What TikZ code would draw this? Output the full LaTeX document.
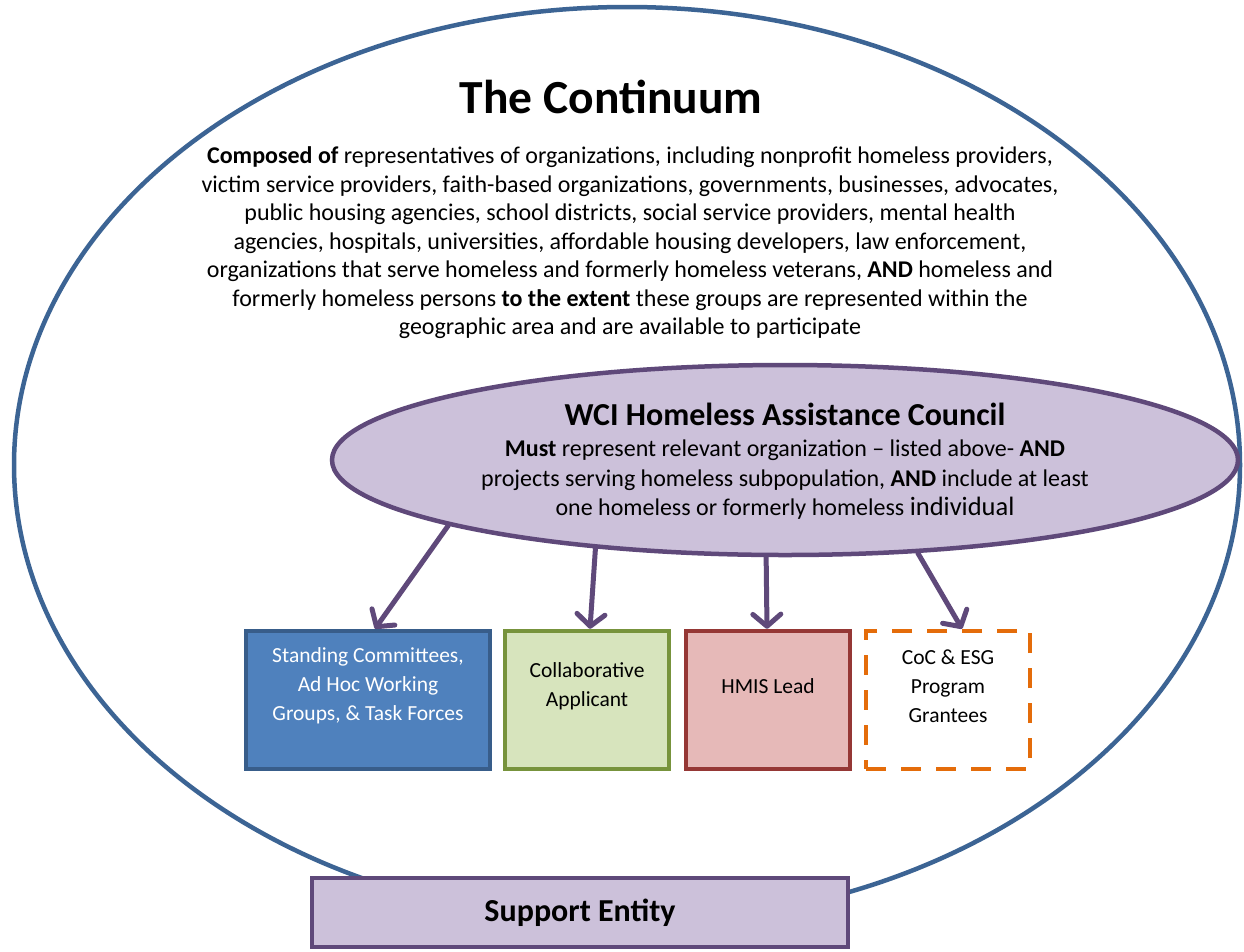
\documentclass[tikz,border=0pt]{standalone}
\usepackage{fontspec}
\setmainfont{Carlito}
\usetikzlibrary{shapes.geometric,arrows.meta,calc}
\definecolor{ringblue}{HTML}{3C6494}
\definecolor{councilline}{HTML}{5F497A}
\definecolor{councilfill}{HTML}{CCC1DA}
\definecolor{boxblue}{HTML}{4F81BD}
\definecolor{boxblueline}{HTML}{385D8A}
\definecolor{boxgreen}{HTML}{D7E4BD}
\definecolor{boxgreenline}{HTML}{77933C}
\definecolor{boxred}{HTML}{E6B9B8}
\definecolor{boxredline}{HTML}{953735}
\definecolor{boxorange}{HTML}{E46C0A}
\tikzset{
  ring/.style={draw=ringblue, line width=4.5pt, ellipse, inner sep=0pt},
  councilshape/.style={draw=councilline, fill=councilfill, line width=4.5pt, ellipse, inner sep=0pt},
  unitbox/.style={rectangle, line width=4.5pt, inner sep=0pt, minimum height=138pt},
  boxlabel/.style={align=center, font=\fontsize{21.5}{29}\selectfont},
  bodytext/.style={align=center, font=\fontsize{24}{28.5}\selectfont},
  flow/.style={draw=councilline, line width=5pt, line cap=round, line join=round,
    -{Straight Barb[length=12pt, width=28pt, line cap=round, line join=round]}},
}
\begin{document}
\begin{tikzpicture}[x=1pt,y=-1pt]
\useasboundingbox[fill=white] (0,0) rectangle (1244,951);
\node[ring, minimum width=1226pt, minimum height=916pt] (continuum) at (627,465) {};
\node[font=\fontsize{47.5}{52}\selectfont\bfseries] (title) at (611,97) {The Continuum};
\node[bodytext] (composed) at (630,243) {\textbf{Composed of} representatives of organizations, including nonprofit homeless providers,\\
victim service providers, faith-based organizations, governments, businesses, advocates,\\
public housing agencies, school districts, social service providers, mental health\\
agencies, hospitals, universities, affordable housing developers, law enforcement,\\
organizations that serve homeless and formerly homeless veterans, \textbf{AND} homeless and\\
formerly homeless persons \textbf{to the extent} these groups are represented within the\\
geographic area and are available to participate};
\node[councilshape, minimum width=906pt, minimum height=190pt] (council) at (785,460) {};
\node[font=\fontsize{32}{36}\selectfont\bfseries] (counciltitle) at (785,414) {WCI Homeless Assistance Council};
\node[bodytext, font=\fontsize{24}{29.5}\selectfont] (councilbody) at (785,480) {\textbf{Must} represent relevant organization -- listed above- \textbf{AND}\\
projects serving homeless subpopulation, \textbf{AND} include at least\\
one homeless or formerly homeless {\fontsize{26.5}{29.5}\selectfont individual}};
\node[unitbox, draw=boxblueline, fill=boxblue, minimum width=244pt] (committees) at (368,700) {};
\node[unitbox, draw=boxgreenline, fill=boxgreen, minimum width=164pt] (applicant) at (587,700) {};
\node[unitbox, draw=boxredline, fill=boxred, minimum width=164pt] (hmis) at (768,700) {};
\node[unitbox, draw=boxorange, fill=white, dash pattern=on 20pt off 15pt, minimum width=164pt] (grantees) at (948,700) {};
\node[boxlabel, text=white] (committeestext) at (368,686) {Standing Committees,\\Ad Hoc Working\\Groups, \& Task Forces};
\node[boxlabel] (applicanttext) at (587,686) {Collaborative\\Applicant};
\node[boxlabel] (hmistext) at (768,686) {HMIS Lead};
\node[boxlabel] (granteestext) at (948,686) {CoC \& ESG\\Program\\Grantees};
\draw[flow] (council.191.5) -- ($(committees.north)+(7,0)$);
\draw[flow] (council.205) -- ($(applicant.north)+(3,0)$);
\draw[flow] (council.259.5) -- ($(hmis.north)+(-1,0)$);
\draw[flow] (council.325.8) -- ($(grantees.north)+(14,0)$);
\node[rectangle, draw=councilline, fill=councilfill, line width=4pt, minimum width=536pt, minimum height=69pt, font=\fontsize{32}{36}\selectfont\bfseries] (support) at (580,912.5) {Support Entity};
\end{tikzpicture}
\end{document}
